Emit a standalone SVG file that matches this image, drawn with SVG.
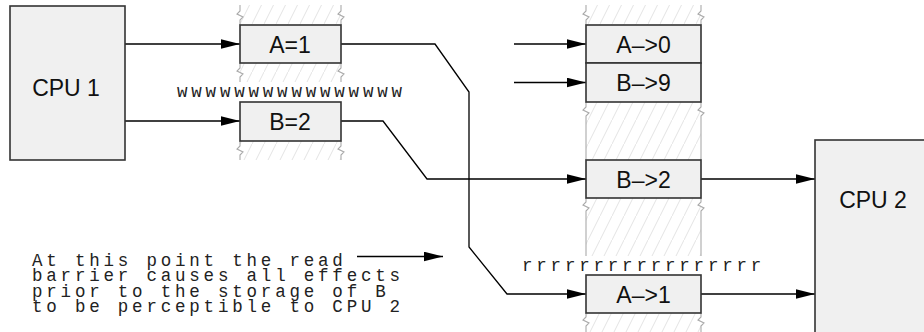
<svg xmlns="http://www.w3.org/2000/svg" width="924" height="332" viewBox="0 0 924 332">
<defs>
<pattern id="hatch" patternUnits="userSpaceOnUse" width="12" height="24">
<line x1="-1" y1="26" x2="13" y2="-2" stroke="#e3e3e3" stroke-width="1"/>
</pattern>
<marker id="arr" markerUnits="userSpaceOnUse" markerWidth="20" markerHeight="10" refX="19" refY="4.8" orient="auto">
<path d="M0,0 L19,4.8 L0,9.6 z" fill="#000"/>
</marker>
</defs>
<style>
.box{fill:#f0f0f0;stroke:#333;stroke-width:1.6}
.lbl{font-family:"Liberation Sans",Arial,sans-serif;font-size:23px;fill:#111;text-anchor:middle}
.mono{font-family:"Liberation Mono","Courier New",monospace;font-size:17.5px;letter-spacing:3.8px;fill:#222}
.hat{fill:url(#hatch);stroke:none}
.side{fill:none;stroke:#aaa;stroke-width:1.1}
.con{fill:none;stroke:#000;stroke-width:1.3}
.arr{marker-end:url(#arr)}
</style>

<g id="column-left">
<rect class="hat" x="240" y="5" width="101" height="20"/>
<rect class="hat" x="240" y="63" width="101" height="19"/>
<rect class="hat" x="240" y="141" width="101" height="19"/>
<path class="side" d="M240,5 V11 l-3,3 l6,3 l-3,3 V25 M341,5 V11 l-3,3 l6,3 l-3,3 V25"/>
<path class="side" d="M240,63 V68 l-3,3 l6,3 l-3,3 V82 M341,63 V68 l-3,3 l6,3 l-3,3 V82"/>
<path class="side" d="M240,141 V146 l-3,3 l6,3 l-3,3 V160 M341,141 V146 l-3,3 l6,3 l-3,3 V160"/>
</g>

<g id="column-right">
<rect class="hat" x="586" y="5" width="115" height="20"/>
<rect class="hat" x="586" y="102" width="115" height="58"/>
<rect class="hat" x="586" y="198" width="115" height="58"/>
<rect class="hat" x="586" y="313" width="115" height="19"/>
<path class="side" d="M586,5 V11 l-3,3 l6,3 l-3,3 V25 M701,5 V11 l-3,3 l6,3 l-3,3 V25"/>
<path class="side" d="M586,102 V107 l-3,3 l6,3 l-3,3 V160 M701,102 V107 l-3,3 l6,3 l-3,3 V160"/>
<path class="side" d="M586,198 V202 l-3,3 l6,3 l-3,3 V256 M701,198 V202 l-3,3 l6,3 l-3,3 V256"/>
<path class="side" d="M586,313 V317 l-3,3 l6,3 l-3,3 V332 M701,313 V317 l-3,3 l6,3 l-3,3 V332"/>
</g>

<g id="connectors">
<path class="con arr" d="M125,44 H240"/>
<path class="con arr" d="M125,121 H240"/>
<path class="con arr" d="M341,44 H435 L469,92 V247 L507,294 H586"/>
<path class="con arr" d="M341,121 H383 L427,179 H586"/>
<path class="con arr" d="M514,44 H586"/>
<path class="con arr" d="M514,82.5 H586"/>
<path class="con arr" d="M701,179 H815"/>
<path class="con arr" d="M701,294 H815"/>
<path class="con arr" d="M357,256.5 H443"/>
</g>

<g id="cpu1">
<rect class="box" x="10" y="6" width="115" height="154"/>
<text class="lbl" x="66" y="96">CPU 1</text>
</g>
<g id="store-a1">
<rect class="box" x="240" y="25" width="101" height="38"/>
<text class="lbl" x="290" y="53">A=1</text>
</g>
<g id="store-b2">
<rect class="box" x="240" y="102" width="101" height="39"/>
<text class="lbl" x="290" y="130">B=2</text>
</g>
<g id="load-a0">
<rect class="box" x="586" y="25" width="115" height="38"/>
<text class="lbl" x="643.5" y="53">A–&gt;0</text>
</g>
<g id="load-b9">
<rect class="box" x="586" y="63" width="115" height="39"/>
<text class="lbl" x="643.5" y="91">B–&gt;9</text>
</g>
<g id="load-b2">
<rect class="box" x="586" y="160" width="115" height="38"/>
<text class="lbl" x="643.5" y="188">B–&gt;2</text>
</g>
<g id="load-a1">
<rect class="box" x="586" y="275" width="115" height="38"/>
<text class="lbl" x="643.5" y="303">A–&gt;1</text>
</g>
<g id="cpu2">
<rect class="box" x="815" y="140" width="120" height="200"/>
<text class="lbl" x="873" y="208">CPU 2</text>
</g>

<g id="write-barrier">
<text class="mono" x="177" y="97">wwwwwwwwwwwwwwww</text>
</g>
<g id="read-barrier">
<text class="mono" x="522" y="270.5">rrrrrrrrrrrrrrrrr</text>
</g>
<g id="note">
<text class="mono" x="32" y="265.5">At this point the read</text>
<text class="mono" x="32" y="281">barrier causes all effects</text>
<text class="mono" x="32" y="296.5">prior to the storage of B</text>
<text class="mono" x="32" y="312">to be perceptible to CPU 2</text>
</g>
</svg>
